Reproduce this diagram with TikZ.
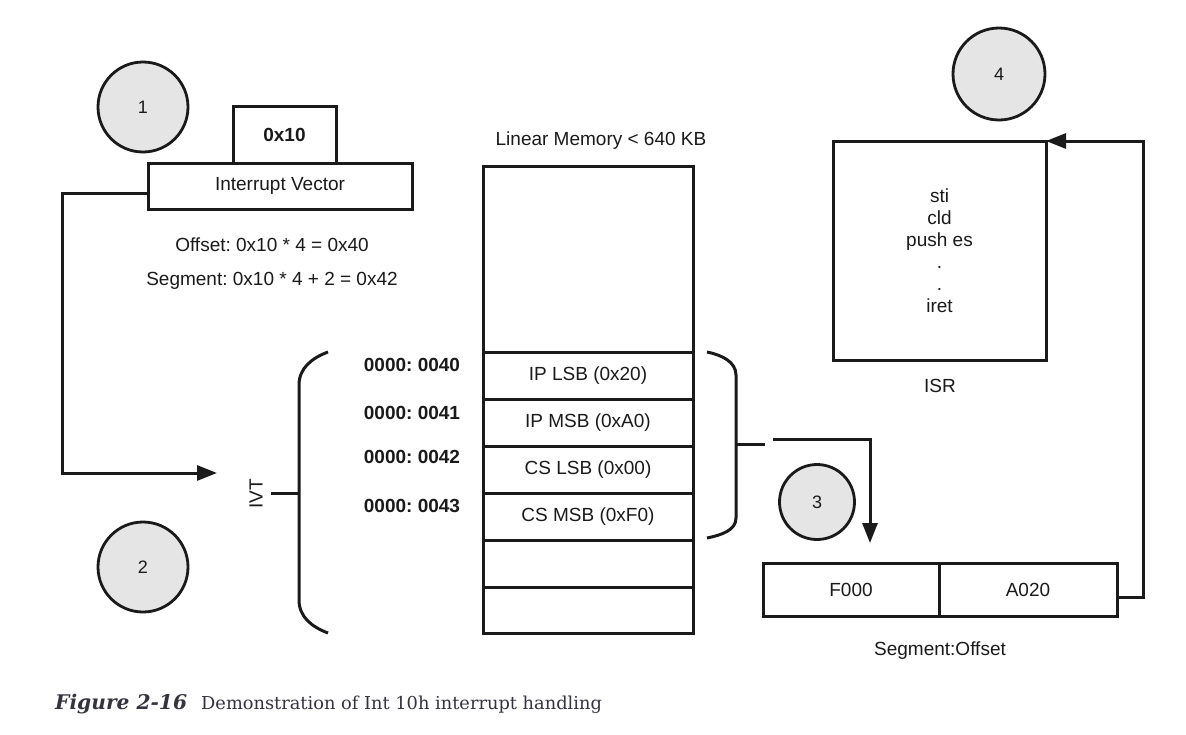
\documentclass[tikz,border=0pt]{standalone}
\usepackage{fontspec}
\setmainfont{Liberation Sans}
\newfontfamily\capfont{DejaVu Serif}
\usetikzlibrary{arrows.meta}
\definecolor{ink}{RGB}{26,26,26}
\definecolor{circfill}{RGB}{229,229,229}
\definecolor{capcol}{RGB}{52,52,62}
\frenchspacing
\begin{document}
\begin{tikzpicture}[x=1pt,y=-1pt,
  every node/.style={font=\fontsize{19}{22}\selectfont, text=ink},
  box/.style={draw=ink, line width=3pt, inner sep=0pt, outer sep=0pt, anchor=north west},
  num/.style={circle, draw=ink, line width=2.8pt, fill=circfill, inner sep=0pt, font=\fontsize{18}{20}\selectfont},
  conn/.style={draw=ink, line width=3pt},
  tip/.style={-{Triangle[length=20pt,width=15pt]}},
  addr/.style={font=\bfseries\fontsize{19}{22}\selectfont}
]
\useasboundingbox[fill=white] (0,0) rectangle (1186,734);

% step circles
\node[num, minimum size=90pt] (c1) at (143,107) {1};
\node[num, minimum size=90pt] (c2) at (143,567) {2};
\node[num, minimum size=75pt] (c3) at (817,502) {3};
\node[num, minimum size=92pt] (c4) at (999,74) {4};

% interrupt vector
\node[box, minimum width=264pt, minimum height=46pt] (iv) at (148,163) {Interrupt Vector};
\node[box, anchor=south west, minimum width=103pt, minimum height=57pt] (vec) at (233,163) {\bfseries 0x10};
\node (off) at (272,245) {Offset: 0x10 * 4 = 0x40};
\node (seg) at (272,281) {Segment: 0x10 * 4 + 2 = 0x42};

% connector to IVT
\coordinate (ivtin) at (217,473);
\draw[conn, tip] ([yshift=-7pt]iv.west) -- (62,193) -- (62,473) -- (ivtin);

% memory column
\node (memt) at (601,141) {Linear Memory < 640 KB};
\node[box, minimum width=210pt, minimum height=186pt] (m0) at (483,166) {};
\node[box, minimum width=210pt, minimum height=47pt] (m1) at (483,352) {IP LSB (0x20)};
\node[box, minimum width=210pt, minimum height=47pt] (m2) at (483,399) {IP MSB (0xA0)};
\node[box, minimum width=210pt, minimum height=47pt] (m3) at (483,446) {CS LSB (0x00)};
\node[box, minimum width=210pt, minimum height=47pt] (m4) at (483,493) {CS MSB (0xF0)};
\node[box, minimum width=210pt, minimum height=47pt] (m5) at (483,540) {};
\node[box, minimum width=210pt, minimum height=46pt] (m6) at (483,587) {};

% addresses
\node[addr] (a0) at (412,365) {0000: 0040};
\node[addr] (a1) at (412,413) {0000: 0041};
\node[addr] (a2) at (412,457) {0000: 0042};
\node[addr] (a3) at (412,506) {0000: 0043};

% left brace (IVT)
\draw[conn] (328,352) .. controls (312,358) and (299,368) .. (299,385) -- (299,600) .. controls (299,617) and (312,627) .. (328,633);
\coordinate (lbm) at (299,493);
\node[rotate=90] (ivt) at (256,494) {IVT};
\draw[conn] (lbm) -- (271,493);

% right brace
\draw[conn] (707,352) .. controls (722,355) and (736,362) .. (736,375) -- (736,518) .. controls (736,530) and (722,535) .. (707,538);
\coordinate (rbm) at (736,444);
\draw[conn] (rbm) -- (765,444);
\coordinate (sotip) at (870,543);
\draw[conn, tip] (773,439) -| (sotip);

% segment:offset
\node[box, minimum width=176pt, minimum height=53pt] (sseg) at (763,563) {F000};
\node[box, minimum width=178pt, minimum height=53pt] (soff) at (939,563) {A020};
\node (solbl) at (940,651) {Segment:Offset};

% ISR
\node[box, minimum width=213pt, minimum height=219pt, align=center] (isr) at (833,141) {sti\\cld\\push es\\.\\.\\iret};
\node (isrl) at (940,386) {ISR};
\draw[conn, tip] ([yshift=-7.5pt]soff.east) -- (1143,597) |- (isr.north east);

% caption
\node[anchor=base west, inner sep=0pt, text=capcol, font=\capfont\bfseries\itshape\fontsize{20.2}{24}\selectfont] (capa) at (55,709) {Figure 2-16};
\node[anchor=base west, inner sep=0pt, text=capcol, font=\capfont\fontsize{17.8}{22}\selectfont] (capb) at (201,709) {Demonstration of Int 10h interrupt handling};
\end{tikzpicture}
\end{document}
